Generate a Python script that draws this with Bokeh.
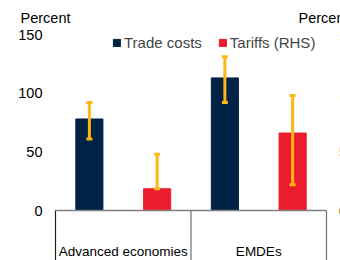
from bokeh.plotting import figure
from bokeh.models import Range1d, Whisker, TeeHead, ColumnDataSource
from bokeh.embed import file_html
from bokeh.resources import INLINE
from bokeh.core.properties import value

# ---- data ----
categories = ["Advanced economies", "EMDEs"]
series = ["Trade costs", "Tariffs (RHS)"]
trade_costs = [78, 113]
trade_costs_low = [61, 92]
trade_costs_high = [92, 131]
tariffs = [1.85, 6.6]
tariffs_low = [1.85, 2.2]
tariffs_high = [4.8, 9.8]
left_ticks = [0, 50, 100, 150]
right_ticks = [0, 5, 10, 15]
axis_title = "Percent"

# ---- style / layout ----
NAVY = "#002345"
RED = "#EB1C2D"
GOLD = "#FDB714"
FONT = "Liberation Sans"
W, H = 340, 260
PX_PER_CAT = 135.5      # pixels per category
X0_PX = 55              # pixel of the first category boundary
PX_PER_UNIT = 1.1733    # pixels per left-axis unit
Y0_PX = 210             # pixel of the zero line
RHS_FACTOR = 10.0


def xd(px):
    return (px - X0_PX) / PX_PER_CAT


def yd(py):
    return (Y0_PX - py) / PX_PER_UNIT


n = len(categories)
centers = [i + 0.5 for i in range(n)]
trade_x = [c - 0.25 for c in centers]
tariff_x = [c + 0.25 for c in centers]

y_start, y_end = yd(H), yd(0)
p = figure(width=W, height=H, x_range=Range1d(xd(0), xd(W)), y_range=Range1d(y_start, y_end),
           output_backend="svg", toolbar_location=None, x_axis_location=None,
           y_axis_location=None, min_border=0)
p.extra_y_ranges = {"rhs": Range1d(y_start / RHS_FACTOR, y_end / RHS_FACTOR)}
p.outline_line_color = None
p.grid.grid_line_color = None

src_t = ColumnDataSource(dict(x=trade_x, top=trade_costs, lo=trade_costs_low, hi=trade_costs_high))
src_r = ColumnDataSource(dict(x=tariff_x, top=tariffs, lo=tariffs_low, hi=tariffs_high))

p.vbar(x="x", top="top", width=0.2, source=src_t, fill_color=NAVY, line_color=NAVY,
       legend_label=series[0])
p.vbar(x="x", top="top", width=0.2, source=src_r, fill_color=RED, line_color=RED,
       y_range_name="rhs", legend_label=series[1])

for src, rng in ((src_t, "default"), (src_r, "rhs")):
    w = Whisker(source=src, base="x", lower="lo", upper="hi", line_color=GOLD, line_width=3,
                upper_head=TeeHead(size=6, line_color=GOLD, line_width=3),
                lower_head=TeeHead(size=6, line_color=GOLD, line_width=3),
                level="annotation")
    if rng == "rhs":
        w.y_range_name = "rhs"
    p.add_layout(w)

# baseline and category separators
p.segment(x0=[0], x1=[n], y0=[0], y1=[0], line_color="#808080", line_width=1.5)
seps = list(range(n + 1))
p.segment(x0=seps, x1=seps, y0=[0] * len(seps), y1=[y_start] * len(seps),
          line_color=["#222222"] + ["#707070"] * n, line_width=1.2)

# category labels
p.text(x=centers, y=[yd(251)] * n, text=categories, text_font=value(FONT),
       text_font_size="13.5px", text_align="center", text_baseline="middle", text_color="black")

# left axis tick labels
p.text(x=[xd(42)] * len(left_ticks), y=left_ticks, text=[str(t) for t in left_ticks],
       text_font=value(FONT), text_font_size="14.5px", text_align="right",
       text_baseline="middle", text_color="black")

# right axis tick labels (clipped by the canvas edge, as in the original)
p.text(x=[xd(338.6)] * len(right_ticks), y=right_ticks, text=[str(t) for t in right_ticks],
       y_range_name="rhs", text_font=value(FONT), text_font_size="14.5px", text_align="left",
       text_baseline="middle", text_color="black")

# axis titles
p.text(x=[xd(20), xd(298)], y=[yd(17)] * 2, text=[axis_title] * 2, text_font=value(FONT),
       text_font_size="14.5px", text_align="left", text_baseline="middle", text_color="black")

lg = p.legend[0]
lg.location = (112, 209)
lg.orientation = "horizontal"
lg.glyph_width = 9
lg.glyph_height = 9
lg.label_standoff = 3
lg.spacing = 16
lg.padding = 0
lg.margin = 0
lg.border_line_color = None
lg.background_fill_alpha = 0
lg.label_text_font = FONT
lg.label_text_font_size = "15px"

open("out.html", "w").write(file_html(p, INLINE))
